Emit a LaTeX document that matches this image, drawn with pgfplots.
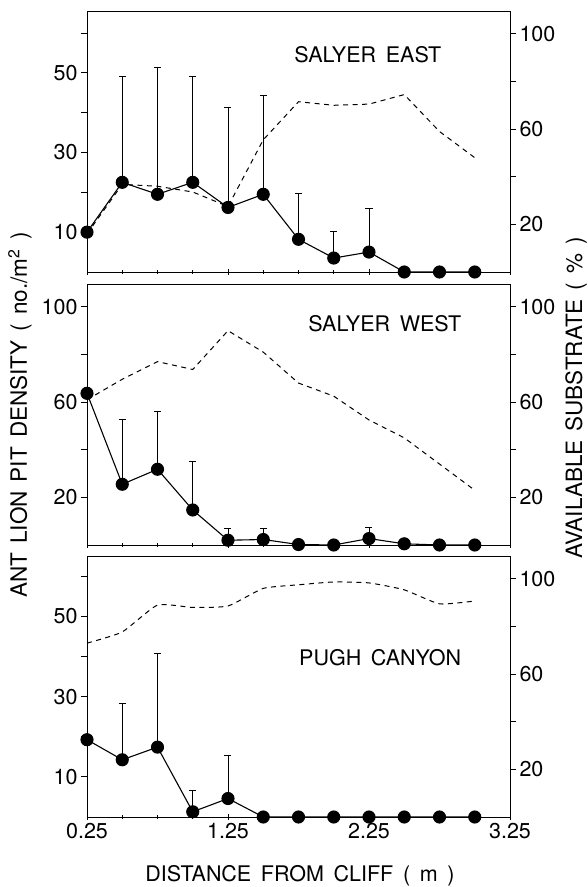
\documentclass[border=0pt]{standalone}
\usepackage{fontspec}
\setmainfont{TeX Gyre Heros}
\usepackage{pgfplots}
\pgfplotsset{compat=1.18}
\newcommand{\gap}{\hspace{0.45em}}
\tikzset{site/.style={font=\fontsize{21.5}{25}\selectfont}}
\pgfplotsset{
  panel/.style={
    scale only axis, width=423pt, height=261pt,
    xmin=0.25, xmax=3.25, ymin=0,
    clip=false,
    xtick={0.25,1.25,2.25,3.25},
    minor xtick={0.5,0.75,1,1.5,1.75,2,2.5,2.75,3},
    axis line style={line width=0.9pt},
    every tick/.style={black, line width=0.8pt},
    major tick length=6pt, minor tick length=4pt,
    ticklabel style={font=\fontsize{21.5}{24}\selectfont},
    /pgf/number format/assume math mode=true,
    xtick align=center, ytick align=outside,
  },
  leftax/.style={panel, ytick pos=left, xtick pos=bottom},
  rightax/.style={panel, axis y line*=right, axis x line=none,
    ymax=109.6, ytick={20,40,60,80,100}, yticklabels={20,,60,,100}},
  dens/.style={black, line width=1.1pt, mark=*, mark size=6pt,
    mark options={solid},
    error bars/.cd, y dir=plus, y explicit,
    error bar style={line width=0.8pt},
    error mark options={rotate=90, line width=0.8pt, mark size=3.5pt}},
  subs/.style={black, line width=1pt, dash pattern=on 5pt off 4.5pt, no marks},
}
\begin{document}
\begin{tikzpicture}[x=1pt,y=1pt]
\useasboundingbox (-87,-70) rectangle (500,817);

% ---- Salyer East ----
\begin{axis}[leftax, at={(0pt,545pt)}, anchor=south west, ymax=65.5,
  xticklabels={}, ytick={10,20,...,60}, yticklabels={10,,30,,50,}]
\addplot[dens] coordinates {
  (0.25,10) +- (0,0) (0.5,22.5) +- (0,26.5) (0.75,19.5) +- (0,31.8)
  (1.0,22.5) +- (0,26.5) (1.25,16.2) +- (0,25.1) (1.5,19.5) +- (0,24.8)
  (1.75,8.2) +- (0,11.5) (2.0,3.5) +- (0,6.8) (2.25,5) +- (0,11)
  (2.5,0) +- (0,0) (2.75,0) +- (0,0) (3.0,0) +- (0,0)
};
\node[site] at (rel axis cs:0.664,0.832) {SALYER\gap EAST};
\end{axis}
\begin{axis}[rightax, at={(0pt,545pt)}, anchor=south west]
\addplot[subs] coordinates {
  (0.25,16) (0.5,36.8) (0.75,36) (1.0,33.6) (1.25,27.5) (1.5,55.5)
  (1.75,71.5) (2.0,70) (2.25,70.5) (2.5,74.5) (2.75,59) (3.0,48)
};
\end{axis}

% ---- Salyer West ----
\begin{axis}[leftax, at={(0pt,272pt)}, anchor=south west, ymax=109.6,
  xticklabels={}, ytick={20,40,60,80,100}, yticklabels={20,,60,,100}]
\addplot[dens] coordinates {
  (0.25,63.7) +- (0,0) (0.5,25.5) +- (0,27.3) (0.75,31.8) +- (0,24.2)
  (1.0,14.7) +- (0,20.2) (1.25,2) +- (0,4.8) (1.5,2.3) +- (0,4.5)
  (1.75,0.2) +- (0,0) (2.0,0) +- (0,0) (2.25,2.7) +- (0,4.6)
  (2.5,0.5) +- (0,0) (2.75,0) +- (0,0) (3.0,0) +- (0,0)
};
\node[site] at (rel axis cs:0.704,0.848) {SALYER\gap WEST};
\end{axis}
\begin{axis}[rightax, at={(0pt,272pt)}, anchor=south west]
\addplot[subs] coordinates {
  (0.25,61) (0.5,69.6) (0.75,77) (1.0,73.7) (1.25,90) (1.5,81)
  (1.75,68) (2.0,62.5) (2.25,52.5) (2.5,45) (2.75,34) (3.0,23)
};
\end{axis}

% ---- Pugh Canyon ----
\begin{axis}[leftax, at={(0pt,0pt)}, anchor=south west, ymax=65,
  ytick={10,20,...,60}, yticklabels={10,,30,,50,},
  xticklabels={0.25,1.25,2.25,3.25}]
\addplot[dens] coordinates {
  (0.25,19.25) +- (0,0) (0.5,14.25) +- (0,14) (0.75,17.4) +- (0,23.35)
  (1.0,1.3) +- (0,5.3) (1.25,4.6) +- (0,10.8) (1.5,0) +- (0,0)
  (1.75,0) +- (0,0) (2.0,0) +- (0,0) (2.25,0) +- (0,0)
  (2.5,0) +- (0,0) (2.75,0) +- (0,0) (3.0,0) +- (0,0)
};
\node[site] at (rel axis cs:0.693,0.612) {PUGH\gap CANYON};
\end{axis}
\begin{axis}[rightax, at={(0pt,0pt)}, anchor=south west]
\addplot[subs, smooth, tension=0.3] coordinates {
  (0.25,73) (0.5,77.7) (0.75,89) (1.0,88) (1.25,88.6) (1.5,96)
  (1.75,97.5) (2.0,98.7) (2.25,98.3) (2.5,95.4) (2.75,89.5) (3.0,90.7)
};
\end{axis}

% ---- axis titles ----
\node[rotate=90, font=\fontsize{22.5}{26}\selectfont] at (-67,402)
  {ANT\hspace{0.4em}LION\hspace{0.4em}PIT\hspace{0.4em}DENSITY\hspace{0.4em}(\hspace{0.4em}no./m\textsuperscript{2}\hspace{0.4em})};
\node[rotate=90, font=\fontsize{22.5}{26}\selectfont] at (489,419)
  {AVAILABLE\hspace{0.4em}SUBSTRATE\hspace{0.4em}(\hspace{0.4em}\%\hspace{0.4em})};
\node[font=\fontsize{21.5}{25}\selectfont] at (213,-59)
  {DISTANCE\gap FROM\gap CLIFF\gap (\gap m\gap )};
\end{tikzpicture}
\end{document}
